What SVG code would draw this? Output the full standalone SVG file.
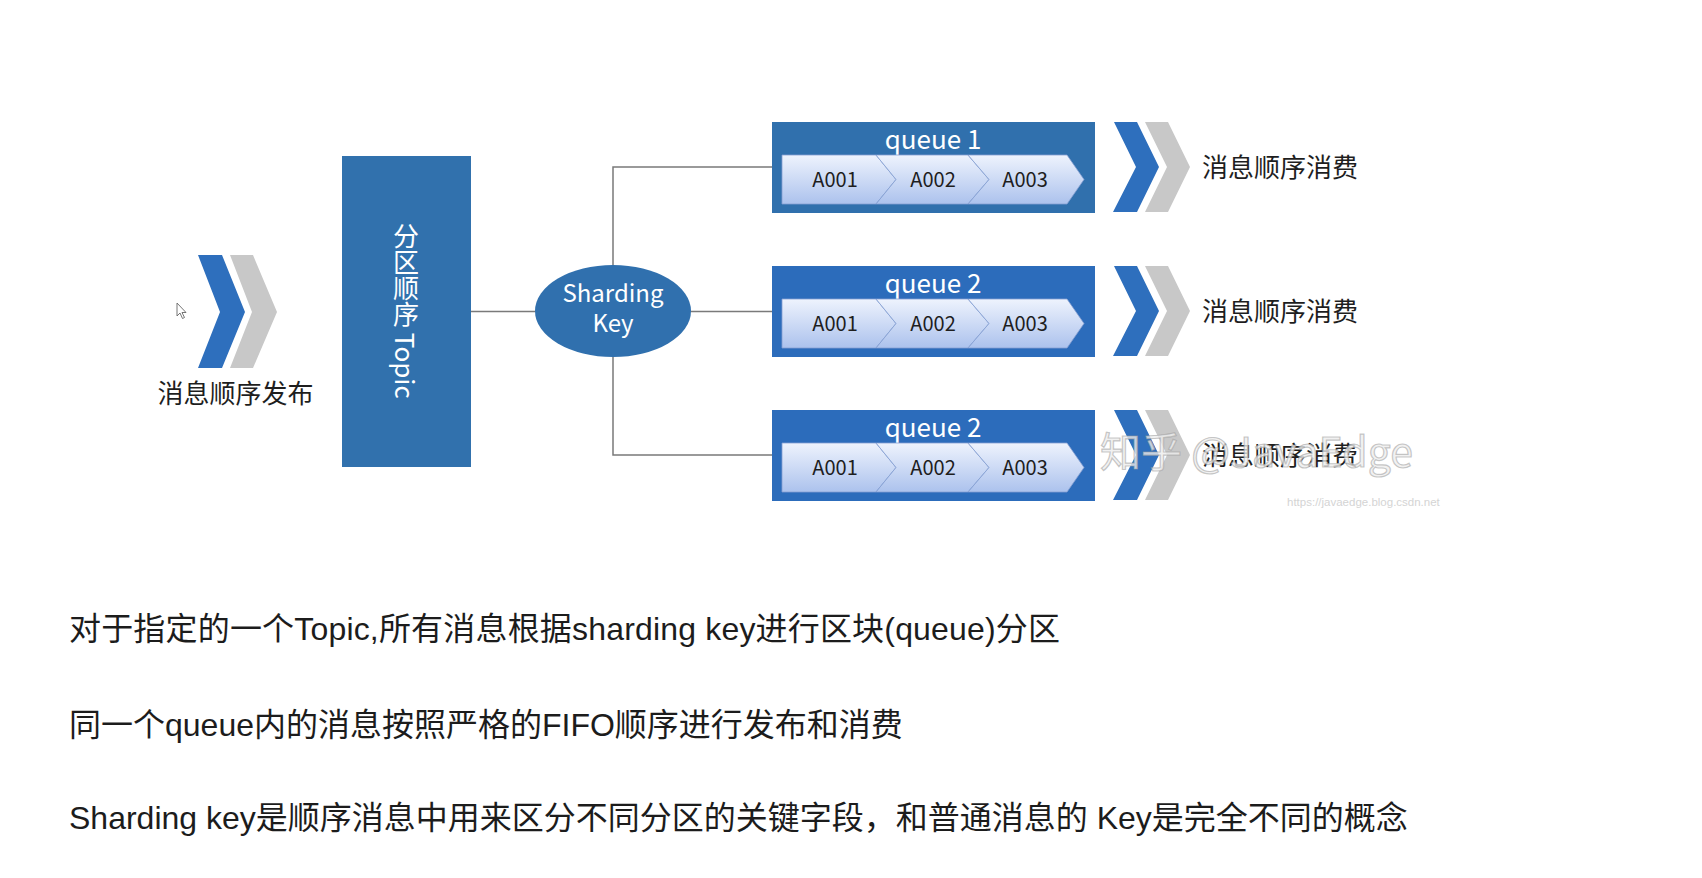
<svg xmlns="http://www.w3.org/2000/svg" width="1702" height="878" viewBox="0 0 1702 878">
<defs>
<linearGradient id="strip" x1="0" y1="0" x2="0" y2="1">
<stop offset="0" stop-color="#eef3fd"/>
<stop offset="1" stop-color="#acc2ed"/>
</linearGradient>
<style>
.cjk{font-family:"Noto Sans CJK SC","Noto Sans",sans-serif;}
.body{font-family:"Liberation Sans","Noto Sans CJK SC",sans-serif;font-size:32px;fill:#1c1c1c;}
.blue{fill:#2e6fbd;}
.gray{fill:#c8c8c8;}
.conn{stroke:#7a7a7a;stroke-width:1.5;fill:none;}
.qbox{fill:#2c6cbb;}
.seg{fill:url(#strip);stroke:#86a0d2;stroke-width:0.8;}
.qtitle{font-family:"Noto Sans CJK SC",sans-serif;font-size:26px;fill:#ffffff;text-anchor:middle;}
.item{font-family:"Noto Sans CJK SC",sans-serif;font-size:20px;fill:#1e1e1e;text-anchor:middle;}
.label{font-family:"Noto Sans CJK SC",sans-serif;font-size:26px;fill:#1e1e1e;}
</style>
</defs>
<rect width="1702" height="878" fill="#ffffff"/>

<g id="connectors">
<line class="conn" x1="471" y1="311.5" x2="535" y2="311.5"/>
<line class="conn" x1="691" y1="311.5" x2="772" y2="311.5"/>
<polyline class="conn" points="613,266 613,167 772,167"/>
<polyline class="conn" points="613,357 613,455 772,455"/>
</g>

<g id="publish">
<polygon class="gray" points="230,255 253,255 277,312 253,368 230,368 252,312"/>
<polygon class="blue" points="198,255 222,255 245,312 222,368 198,368 220,312"/>
<polygon points="177,303 177,316 180,313 182.5,318.5 184.5,317.5 182,312.5 186,312.5" fill="#ffffff" stroke="#666" stroke-width="0.9"/>
<text class="label" x="235.5" y="403" text-anchor="middle">消息顺序发布</text>
</g>

<g id="topic">
<rect x="342" y="156" width="129" height="311" fill="#3171ad"/>
<text class="cjk" x="406" y="223" font-size="26" fill="#ffffff" style="writing-mode:vertical-rl">分区顺序 Topic</text>
</g>

<g id="sharding-key">
<ellipse cx="613" cy="311" rx="78" ry="46" fill="#3070ae"/>
<text class="cjk" x="613" y="302" font-size="24" fill="#ffffff" text-anchor="middle">Sharding</text>
<text class="cjk" x="613" y="332" font-size="24" fill="#ffffff" text-anchor="middle">Key</text>
</g>

<g id="queue1">
<rect x="772" y="122" width="323" height="91" fill="#3070ad"/>
<text class="qtitle" x="933" y="149">queue 1</text>
<path class="seg" d="M782,155 H876 L896,179.5 L876,204 H782 Z"/>
<path class="seg" d="M876,155 H968 L989,179.5 L968,204 H876 L896,179.5 Z"/>
<path class="seg" d="M968,155 H1067 L1084,179.5 L1067,204 H968 L989,179.5 Z"/>
<text class="item" x="835" y="187">A001</text>
<text class="item" x="933" y="187">A002</text>
<text class="item" x="1025" y="187">A003</text>
</g>

<g id="queue2">
<rect x="772" y="266" width="323" height="91" class="qbox"/>
<text class="qtitle" x="933" y="293">queue 2</text>
<path class="seg" d="M782,299 H876 L896,323.5 L876,348 H782 Z"/>
<path class="seg" d="M876,299 H968 L989,323.5 L968,348 H876 L896,323.5 Z"/>
<path class="seg" d="M968,299 H1067 L1084,323.5 L1067,348 H968 L989,323.5 Z"/>
<text class="item" x="835" y="331">A001</text>
<text class="item" x="933" y="331">A002</text>
<text class="item" x="1025" y="331">A003</text>
</g>

<g id="queue3">
<rect x="772" y="410" width="323" height="91" class="qbox"/>
<text class="qtitle" x="933" y="437">queue 2</text>
<path class="seg" d="M782,443 H876 L896,467.5 L876,492 H782 Z"/>
<path class="seg" d="M876,443 H968 L989,467.5 L968,492 H876 L896,467.5 Z"/>
<path class="seg" d="M968,443 H1067 L1084,467.5 L1067,492 H968 L989,467.5 Z"/>
<text class="item" x="835" y="475">A001</text>
<text class="item" x="933" y="475">A002</text>
<text class="item" x="1025" y="475">A003</text>
</g>

<g id="consume1">
<polygon class="gray" points="1145,122 1168,122 1190,167 1168,212 1145,212 1167,167"/>
<polygon class="blue" points="1114,122 1137,122 1159,167 1137,212 1113,212 1136,167"/>
<text class="label" x="1202" y="176.5">消息顺序消费</text>
</g>
<g id="consume2">
<polygon class="gray" points="1145,266 1168,266 1190,311 1168,356 1145,356 1167,311"/>
<polygon class="blue" points="1114,266 1137,266 1159,311 1137,356 1113,356 1136,311"/>
<text class="label" x="1202" y="320.5">消息顺序消费</text>
</g>
<g id="consume3">
<polygon class="gray" points="1145,410 1168,410 1190,455 1168,500 1145,500 1167,455"/>
<polygon class="blue" points="1114,410 1137,410 1159,455 1137,500 1113,500 1136,455"/>
<text class="label" x="1202" y="464.5">消息顺序消费</text>
</g>

<g id="watermark">
<text x="1100" y="467" font-family="Noto Sans CJK SC, sans-serif" font-size="41" fill="#eeeeee" fill-opacity="0.8" stroke="#9a9a9a" stroke-opacity="0.55" stroke-width="1.2">知乎 @JavaEdge</text>
<text x="1287" y="506" font-family="Liberation Sans, sans-serif" font-size="11.5" fill="#d4d4d4">https://javaedge.blog.csdn.net</text>
</g>

<g id="notes">
<text class="body" x="69" y="640" textLength="991" lengthAdjust="spacing">对于指定的一个Topic,所有消息根据sharding key进行区块(queue)分区</text>
<text class="body" x="69" y="736">同一个queue内的消息按照严格的FIFO顺序进行发布和消费</text>
<text class="body" x="69" y="829">Sharding key是顺序消息中用来区分不同分区的关键字段，和普通消息的 Key是完全不同的概念</text>
</g>
</svg>
